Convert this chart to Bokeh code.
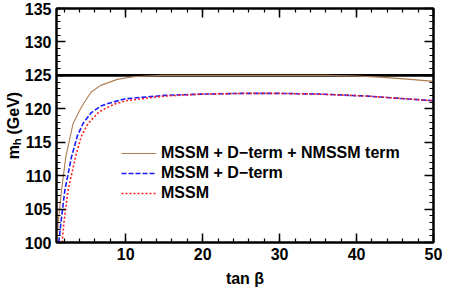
from bokeh.plotting import figure
from bokeh.models import Range1d, LinearAxis, SingleIntervalTicker, CustomLabelingPolicy
from bokeh.embed import file_html
from bokeh.resources import INLINE

# ---- data ----
nmssm_x = [1.05, 1.21, 1.65, 2.21, 3.16, 4.2, 5.5, 6.75, 8.9, 11.0, 14.6, 20.0, 30.0, 36.0, 40.0, 43.5, 47.0, 50.0]
nmssm_y = [100.0, 102.8, 107.8, 112.8, 117.8, 120.2, 122.5, 123.5, 124.4, 124.8, 125.0, 125.0, 125.0, 125.0, 124.9, 124.7, 124.4, 124.1]

dterm_x = [1.3, 1.56, 2.08, 2.95, 3.7, 4.45, 5.5, 6.75, 7.7, 10.0, 15.0, 20.0, 25.0, 30.0, 35.0, 41.4, 45.0, 50.0]
dterm_y = [100.0, 102.8, 107.8, 112.8, 115.9, 117.8, 119.4, 120.4, 120.8, 121.5, 122.0, 122.2, 122.3, 122.3, 122.2, 121.9, 121.6, 121.2]

mssm_x = [1.73, 1.95, 2.5, 3.47, 4.2, 5.1, 6.5, 7.6, 8.57, 10.0, 15.0, 20.0, 25.0, 30.0, 35.0, 41.4, 45.0, 50.0]
mssm_y = [100.0, 102.8, 107.8, 112.8, 115.8, 117.8, 119.5, 120.2, 120.7, 121.2, 121.9, 122.2, 122.3, 122.3, 122.2, 121.9, 121.6, 121.2]

measured_mass = 125.0

x_range = (1, 50)
y_range = (100, 135)

FONT = "Liberation Sans"

p = figure(width=458, height=291, output_backend="svg", toolbar_location=None,
           x_range=Range1d(*x_range), y_range=Range1d(*y_range),
           min_border_left=56, min_border_right=25, min_border_top=8, min_border_bottom=49)
p.grid.visible = False
p.outline_line_color = "black"
p.outline_line_width = 2
p.background_fill_color = "white"
p.border_fill_color = "white"

xt = SingleIntervalTicker(interval=10, num_minor_ticks=5)
yt = SingleIntervalTicker(interval=5, num_minor_ticks=5)

def style_axis(ax):
    ax.axis_line_width = 2
    ax.axis_line_color = "black"
    ax.major_tick_line_color = "black"
    ax.minor_tick_line_color = "black"
    ax.major_tick_line_width = 1.5
    ax.minor_tick_line_width = 1.2
    ax.major_tick_in = 9
    ax.major_tick_out = 0
    ax.minor_tick_in = 4
    ax.minor_tick_out = 0
    ax.major_label_text_font = FONT
    ax.major_label_text_font_style = "bold"
    ax.major_label_text_color = "black"
    ax.major_label_text_font_size = "16px"
    ax.major_label_standoff = 5
    ax.axis_label_text_font = FONT
    ax.axis_label_text_font_style = "bold"
    ax.axis_label_text_font_size = "16px"
    ax.axis_label_text_color = "black"

p.xaxis.ticker = xt
p.yaxis.ticker = yt
style_axis(p.xaxis[0])
style_axis(p.yaxis[0])
p.xaxis.axis_label = "tan \u03b2"
p.xaxis.axis_label_standoff = 7
p.yaxis.axis_label = "m\u2095 (GeV)"
p.yaxis.axis_label_standoff = 0

top_ax = LinearAxis(ticker=xt)
right_ax = LinearAxis(ticker=yt)
for ax in (top_ax, right_ax):
    style_axis(ax)
    ax.major_label_standoff = 0
    ax.major_label_text_font_size = "1px"
    ax.major_label_policy = CustomLabelingPolicy(code="return []")
p.add_layout(top_ax, "above")
p.add_layout(right_ax, "right")

# horizontal measured-mass line
p.line(x=list(x_range), y=[measured_mass, measured_mass], line_color="black", line_width=2.6)

p.line(nmssm_x, nmssm_y, line_color="#b07d4f", line_width=1.1,
       legend_label="MSSM + D\u2212term + NMSSM term")
p.line(dterm_x, dterm_y, line_color="#1a1aff", line_width=1.6, line_dash="5 2",
       legend_label="MSSM + D\u2212term")
p.line(mssm_x, mssm_y, line_color="#ff2020", line_width=1.6, line_dash="2 2",
       legend_label="MSSM")

lg = p.legend[0]
lg.location = (65, 39)
lg.border_line_alpha = 0
lg.background_fill_alpha = 0
lg.label_text_font = FONT
lg.label_text_font_style = "bold"
lg.label_text_font_size = "16px"
lg.label_text_color = "black"
lg.glyph_width = 35
lg.glyph_height = 20
lg.label_height = 20
lg.spacing = 0
lg.padding = 0
lg.margin = 0
lg.label_standoff = 5

open("out.html", "w").write(file_html(p, INLINE))
